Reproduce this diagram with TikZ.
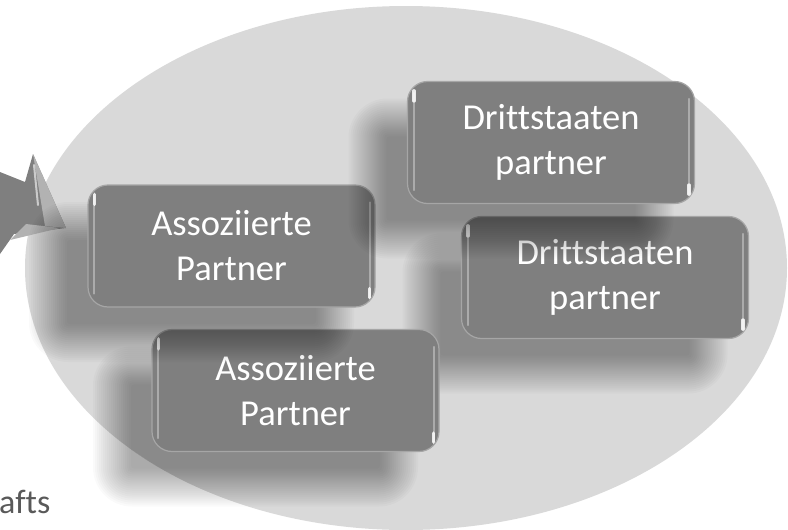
\documentclass[tikz,border=0pt]{standalone}
\usepackage{fontspec}
\setmainfont{Carlito}[Ligatures=CommonOff]
\definecolor{ellgray}{HTML}{D9D9D9}
\definecolor{boxgray}{HTML}{7F7F7F}
\definecolor{edgegray}{HTML}{A6A6A6}
\definecolor{txtgray}{HTML}{595959}
% soft shadow: stacked translucent rounded rectangles, offset down-left
\newcommand\softshadow[2]{%
  \foreach \k in {0,...,19}{%
    \pgfmathsetmacro\e{19-2*\k}%
    \pgfmathsetmacro\r{max(20+\e,3)}%
    \fill[shadowlayer, rounded corners=\r pt]
      ({#1-40-143.5-\e},{#2+36-61-\e}) rectangle ({#1-40+143.5+\e},{#2+36+61+\e});
  }}
\newcommand\glossyhl[1]{%
  \draw[hl] ([xshift=7pt,yshift=-12pt]#1.north west) -- ([xshift=7pt,yshift=14pt]#1.south west);
  \draw[hlspot] ([xshift=7pt,yshift=-10pt]#1.north west) -- ([xshift=7pt,yshift=-20pt]#1.north west);
  \draw[hl] ([xshift=-6pt,yshift=-18pt]#1.north east) -- ([xshift=-6pt,yshift=10pt]#1.south east);
  \draw[hlspot] ([xshift=-6pt,yshift=10pt]#1.south east) -- ([xshift=-6pt,yshift=19pt]#1.south east);
}
\begin{document}
\begin{tikzpicture}[x=1pt,y=-1pt,
  gbox/.style={draw=edgegray, line width=1.2pt, fill=boxgray, rounded corners=20pt,
    minimum width=287pt, minimum height=122pt, text=white, align=center,
    font=\fontsize{36.5}{45}\selectfont, inner sep=0pt},
  shadowlayer/.style={black, opacity=0.019},
  hl/.style={white, opacity=0.35, line width=2pt, line cap=round},
  hlspot/.style={white, opacity=0.85, line width=3.5pt, line cap=round},
  arrowface/.style={fill=boxgray},
  arrowbevel/.style={fill=gray!60!white},
  cutlabel/.style={text=txtgray, font=\fontsize{34}{40}\selectfont, inner sep=0pt}]
\useasboundingbox (0,0) rectangle (788,530);
\clip (0,0) rectangle (788,530);
% big ellipse
\fill[ellgray] (406,268) ellipse [x radius=381, y radius=262];
% 3D arrow (cut at the left edge)
\fill[arrowface] (-30,160) -- (25,182) -- (33,154) -- (66,228) -- (14,234) -- (0,254) -- (-30,254) -- cycle;
\fill[arrowbevel] (33,154) -- (66,228) -- (45,226) -- cycle;
\draw[white, opacity=0.6, line width=2pt, line cap=round] (34,165) -- (38,205);
\fill[arrowbevel] (10,240) -- (26,224) -- (60,228) -- cycle;
% boxes
\softshadow{605}{277.5}
\node[gbox] (b3) at (605,277.5) {Drittstaaten\\partner};
\glossyhl{b3}
\softshadow{295.5}{390.5}
\node[gbox] (b4) at (295.5,390.5) {Assoziierte\\Partner};
\glossyhl{b4}
\softshadow{231.5}{246}
\node[gbox] (b1) at (231.5,246) {Assoziierte\\Partner};
\glossyhl{b1}
\softshadow{551}{142.5}
\node[gbox] (b2) at (551,142.5) {Drittstaaten\\partner};
\glossyhl{b2}
% cut-off label
\node[cutlabel, anchor=base west] (lbl) at (-1,513) {afts};
\end{tikzpicture}
\end{document}
